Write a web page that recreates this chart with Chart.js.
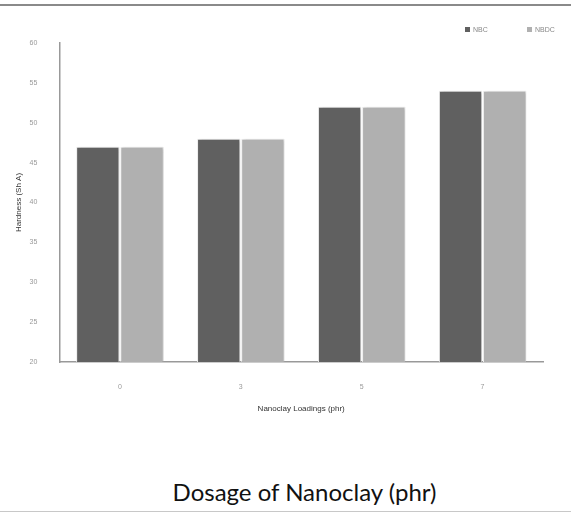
<!DOCTYPE html>
<html>
<head>
<meta charset="utf-8">
<script src="https://cdn.jsdelivr.net/npm/chart.js@4.4.0/dist/chart.umd.min.js"></script>
<style>
  body { margin: 0; background: #fff; }
  #wrap { position: relative; width: 571px; height: 516px; }
  #topLine { position: absolute; left: 0; top: 4px; width: 571px; height: 2px; background: #8a8a8a; }
  #botLine { position: absolute; left: 0; top: 511px; width: 571px; height: 1px; background: #c8c8c8; }
  #chartBox { position: absolute; left: 0; top: 0; width: 571px; height: 424px; }
  #legend { position: absolute; top: 26px; left: 0; width: 571px; height: 10px;
            font-family: "Liberation Sans", sans-serif; font-size: 7px; color: #888; }
  #legend span.item { position: absolute; top: 0; white-space: nowrap; }
  #legend span.box { display: inline-block; width: 5px; height: 5px; margin-right: 3px; vertical-align: 0px; }
  #dosage { position: absolute; left: 0; width: 571px; top: 477px; text-align: center;
            font-family: Lato, "Open Sans", sans-serif; font-size: 24px; color: #111; padding-left: 38px; box-sizing: border-box; }
</style>
</head>
<body>
<div id="wrap">
  <div id="topLine"></div>
  <div id="chartBox"><canvas id="myChart"></canvas></div>
  <div id="legend"></div>
  <div id="dosage">Dosage of Nanoclay (phr)</div>
  <div id="botLine"></div>
</div>
<script>
"use strict";

// data
const loadings = ["0", "3", "5", "7"];
const nbcValues = [47, 48, 52, 54];
const nbdcValues = [47, 48, 52, 54];
const seriesNames = ["NBC", "NBDC"];
const seriesColors = ["#606060", "#b0b0b0"];

// soft shadow behind the bars
const barShadow = {
  id: "barShadow",
  beforeDatasetsDraw(chart) {
    const c = chart.ctx;
    c.save();
    c.shadowColor = "rgba(0,0,0,0.22)";
    c.shadowBlur = 3;
    c.shadowOffsetX = 2;
    c.shadowOffsetY = 0;
  },
  afterDatasetsDraw(chart) {
    chart.ctx.restore();
  }
};

// legend built from the datasets, wide spacing like the original
const htmlLegend = {
  id: "htmlLegend",
  afterUpdate(chart) {
    const box = document.getElementById("legend");
    box.innerHTML = "";
    const lefts = [465, 527];
    chart.data.datasets.forEach((ds, i) => {
      const item = document.createElement("span");
      item.className = "item";
      item.style.left = lefts[i] + "px";
      const sw = document.createElement("span");
      sw.className = "box";
      sw.style.background = ds.backgroundColor;
      item.appendChild(sw);
      item.appendChild(document.createTextNode(ds.label));
      box.appendChild(item);
    });
  }
};

const ctx = document.getElementById("myChart").getContext("2d");
const myChart = new Chart(ctx, {
  type: "bar",
  data: {
    labels: loadings,
    datasets: [
      {
        label: seriesNames[0],
        data: nbcValues,
        backgroundColor: seriesColors[0],
        borderColor: "#eeeeee",
        borderWidth: 1,
        categoryPercentage: 0.73,
        barPercentage: 0.98
      },
      {
        label: seriesNames[1],
        data: nbdcValues,
        backgroundColor: seriesColors[1],
        borderColor: "#eeeeee",
        borderWidth: 1,
        categoryPercentage: 0.73,
        barPercentage: 0.98
      }
    ]
  },
  options: {
    responsive: true,
    maintainAspectRatio: false,
    animation: false,
    layout: { padding: { top: 43, left: 14, right: 28, bottom: 10 } },
    plugins: {
      legend: { display: false },
      tooltip: { enabled: false }
    },
    scales: {
      x: {
        grid: { display: false, drawTicks: false },
        border: { color: "#999", width: 1.5 },
        ticks: { color: "#999", padding: 21, font: { family: "Liberation Sans", size: 7 } },
        title: {
          display: true,
          text: "Nanoclay Loadings (phr)",
          color: "#333",
          padding: { top: -8, bottom: 0 },
          font: { family: "Liberation Sans", size: 8 }
        }
      },
      y: {
        min: 20,
        max: 60,
        grid: { display: false, drawTicks: false },
        border: { color: "#999", width: 1.5 },
        ticks: { stepSize: 5, color: "#999", padding: 22, font: { family: "Liberation Sans", size: 7 } },
        title: {
          display: true,
          text: "Hardness (Sh A)",
          color: "#333",
          padding: { top: 0, bottom: -16 },
          font: { family: "Liberation Sans", size: 8 }
        }
      }
    }
  },
  plugins: [barShadow, htmlLegend]
});
</script>
</body>
</html>
